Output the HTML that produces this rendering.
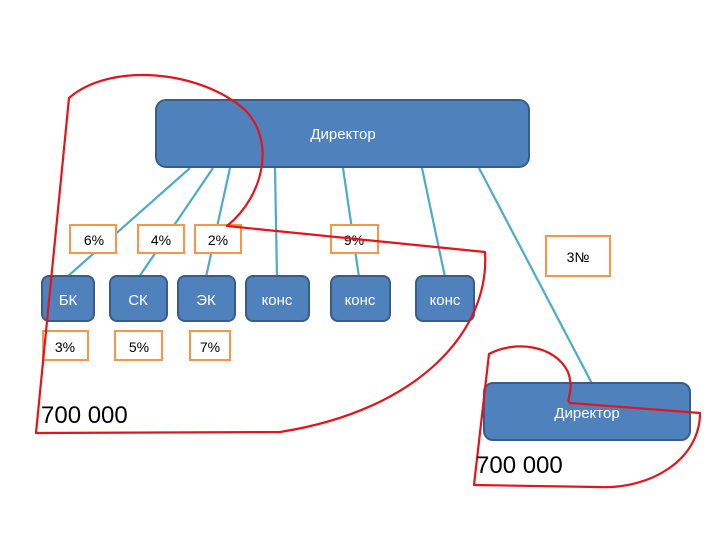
<!DOCTYPE html>
<html><head><meta charset="utf-8"><style>
body{margin:0;background:#fff}
svg{display:block}
text{font-family:"Liberation Sans","DejaVu Sans",sans-serif}
</style></head><body>
<svg width="720" height="540" viewBox="0 0 720 540" xmlns="http://www.w3.org/2000/svg">
<g stroke="#4bacc6" stroke-width="2.2">
<line x1="190" y1="168" x2="67" y2="277"/>
<line x1="213" y1="168" x2="139" y2="277"/>
<line x1="230" y1="168" x2="206" y2="277"/>
<line x1="275" y1="168" x2="277" y2="277"/>
<line x1="343" y1="168" x2="359" y2="277"/>
<line x1="422" y1="168" x2="445" y2="277"/>
<line x1="479" y1="168" x2="598" y2="395"/>
</g>
<g fill="#4f81bd" stroke="#385d8a" stroke-width="2">
<rect x="156" y="100" width="373" height="67" rx="10"/>
<rect x="42" y="276" width="52" height="45" rx="7"/>
<rect x="110" y="276" width="57" height="45" rx="7"/>
<rect x="178" y="276" width="57" height="45" rx="7"/>
<rect x="246" y="276" width="63" height="45" rx="7"/>
<rect x="331" y="276" width="59" height="45" rx="7"/>
<rect x="416" y="276" width="58" height="45" rx="7"/>
<rect x="484" y="383" width="206" height="57" rx="9"/>
</g>
<g fill="#fff" font-size="15" text-anchor="middle">
<text x="343" y="139">Директор</text>
<text x="68" y="305">БК</text>
<text x="138" y="305">СК</text>
<text x="206" y="305">ЭК</text>
<text x="277" y="305">конс</text>
<text x="360" y="305">конс</text>
<text x="445" y="305">конс</text>
<text x="587" y="418">Директор</text>
</g>
<g fill="#fff" stroke="#f79646" stroke-width="2">
<rect x="70" y="225" width="46" height="28"/>
<rect x="138" y="225" width="46" height="28"/>
<rect x="195" y="225" width="46" height="28"/>
<rect x="331" y="225" width="47" height="28"/>
<rect x="546" y="236" width="64" height="40"/>
<rect x="43" y="331" width="45" height="29"/>
<rect x="115" y="331" width="47" height="29"/>
<rect x="190" y="331" width="40" height="29"/>
</g>
<g fill="#000" font-size="14" text-anchor="middle">
<text x="94" y="245">6%</text>
<text x="161" y="245">4%</text>
<text x="218" y="245">2%</text>
<text x="354" y="245">9%</text>
<text x="578" y="262">3№</text>
<text x="65" y="352">3%</text>
<text x="139" y="352">5%</text>
<text x="210" y="352">7%</text>
</g>
<g fill="none" stroke="#e3141b" stroke-width="2.2" stroke-linejoin="round">
<path d="M36 433 L69 98 C110 62 200 70 245 110 C275 140 265 195 227 226 L485 252 C490 330 420 410 280 432 L36 433 Z"/>
<path d="M474 485 L489 354 C515 340 555 345 568 372 C575 392 565 400 570 403 L700 413 C700 460 650 490 597 487 L474 485 Z"/>
</g>
<g fill="#000" font-size="24">
<text x="41" y="423">700 000</text>
<text x="476" y="473">700 000</text>
</g>
</svg>
</body></html>
